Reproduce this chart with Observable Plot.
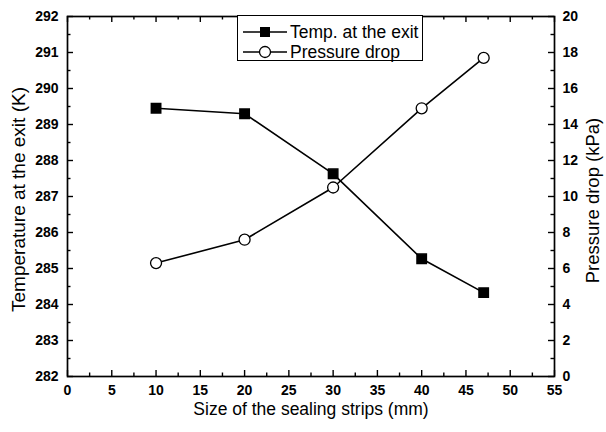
<!DOCTYPE html>
<html>
<head>
<meta charset="utf-8">
<script src="https://cdn.jsdelivr.net/npm/d3@7"></script>
<script src="https://cdn.jsdelivr.net/npm/@observablehq/plot@0.6"></script>
<style>
  html, body { margin: 0; padding: 0; background: #fff; }
  #wrap { position: relative; width: 606px; height: 432px; font-family: "Liberation Sans", Arial, sans-serif; }
  #wrap > svg { position: absolute; left: 0; top: 0; }
  #legend { position: absolute; left: 237px; top: 15px; width: 186px; height: 46px; border: 1px solid #000; background: #fff; box-sizing: border-box; font-size: 17.5px; color: #000; }
  .row { position: absolute; left: 4px; height: 20px; display: flex; align-items: center; }
  .row span { margin-left: 2px; white-space: nowrap; }
</style>
</head>
<body>
<div id="wrap"></div>
<script>
// ---- data ----
const sizes = [10, 20, 30, 40, 47];
const temperature = [289.45, 289.30, 287.63, 285.27, 284.33];
const pressure = [6.3, 7.6, 10.5, 14.9, 17.7];
const xTicks = [0, 5, 10, 15, 20, 25, 30, 35, 40, 45, 50, 55];
const xMinor = [2.5, 7.5, 12.5, 17.5, 22.5, 27.5, 32.5, 37.5, 42.5, 47.5, 52.5];
const tempTicks = [282, 283, 284, 285, 286, 287, 288, 289, 290, 291, 292];
const tempMinor = [282.5, 283.5, 284.5, 285.5, 286.5, 287.5, 288.5, 289.5, 290.5, 291.5];
const pressTicks = [0, 2, 4, 6, 8, 10, 12, 14, 16, 18, 20];
const pressMinor = [1, 3, 5, 7, 9, 11, 13, 15, 17, 19];
const seriesNames = ["Temp. at the exit", "Pressure drop"];
const titles = {x: "Size of the sealing strips (mm)", yLeft: "Temperature at the exit (K)", yRight: "Pressure drop (kPa)"};

const tempData = sizes.map((s, i) => ({x: s, y: temperature[i]}));
const pressData = sizes.map((s, i) => ({x: s, y: pressure[i]}));

const W = 606, H = 432;
const M = {top: 16, right: 52, bottom: 56, left: 67};
const FH = H - M.top - M.bottom;
const FW = W - M.left - M.right;
const FONT = "'Liberation Sans', Arial, sans-serif";
const tickFont = {fontSize: "14px", fontWeight: "bold"};

const p1 = Plot.plot({
  width: W, height: H,
  marginTop: M.top, marginRight: M.right, marginBottom: M.bottom, marginLeft: M.left,
  x: {domain: [0, 55]},
  y: {domain: [282, 292]},
  style: {fontFamily: FONT, background: "white", overflow: "visible"},
  marks: [
    Plot.axisX(xTicks, {tickSize: 0, tickPadding: 9, label: null, tickFormat: d => d, ...tickFont}),
    Plot.axisY(tempTicks, {tickSize: 0, tickPadding: 9, label: null, tickFormat: d => d, ...tickFont}),
    // inward ticks
    Plot.tickX(xTicks, {x: d => d, insetTop: FH - 6, stroke: "black", strokeWidth: 1.4}),
    Plot.tickX(xTicks, {x: d => d, insetBottom: FH - 6, stroke: "black", strokeWidth: 1.4}),
    Plot.tickX(xMinor, {x: d => d, insetTop: FH - 3.5, stroke: "black", strokeWidth: 1.4}),
    Plot.tickX(xMinor, {x: d => d, insetBottom: FH - 3.5, stroke: "black", strokeWidth: 1.4}),
    Plot.tickY(tempTicks, {y: d => d, insetRight: FW - 6, stroke: "black", strokeWidth: 1.4}),
    Plot.tickY(tempMinor, {y: d => d, insetRight: FW - 3.5, stroke: "black", strokeWidth: 1.4}),
    Plot.frame({stroke: "black", strokeWidth: 1.7}),
    Plot.line(tempData, {x: "x", y: "y", stroke: "black", strokeWidth: 1.6}),
    Plot.dot(tempData, {x: "x", y: "y", symbol: "square", r: 5.3, fill: "black", stroke: "black"}),
    Plot.text([titles.x], {text: d => d, frameAnchor: "bottom", dy: 38, fontSize: "17.5px", fontWeight: "normal"}),
    Plot.text([titles.yLeft], {text: d => d, frameAnchor: "left", textAnchor: "middle", dx: -49, dy: 3, rotate: -90, fontSize: "19px", fontWeight: "normal"})
  ]
});

const p2 = Plot.plot({
  width: W, height: H,
  marginTop: M.top, marginRight: M.right, marginBottom: M.bottom, marginLeft: M.left,
  x: {domain: [0, 55], axis: null},
  y: {domain: [0, 20]},
  style: {fontFamily: FONT, background: "transparent", overflow: "visible"},
  marks: [
    Plot.axisY(pressTicks, {anchor: "right", tickSize: 0, tickPadding: 8, label: null, tickFormat: d => d, ...tickFont}),
    Plot.tickY(pressTicks, {y: d => d, insetLeft: FW - 6, stroke: "black", strokeWidth: 1.4}),
    Plot.tickY(pressMinor, {y: d => d, insetLeft: FW - 3.5, stroke: "black", strokeWidth: 1.4}),
    Plot.line(pressData, {x: "x", y: "y", stroke: "black", strokeWidth: 1.6}),
    Plot.dot(pressData, {x: "x", y: "y", r: 5.5, fill: "white", stroke: "black", strokeWidth: 1.3}),
    Plot.text([titles.yRight], {text: d => d, frameAnchor: "right", textAnchor: "middle", dx: 39, dy: 4, rotate: -90, fontSize: "18.5px", fontWeight: "normal"})
  ]
});
p2.style.pointerEvents = "none";

const wrap = document.getElementById("wrap");
wrap.appendChild(p1);
wrap.appendChild(p2);

// legend
const legend = document.createElement("div");
legend.id = "legend";
const symSq = '<svg width="46" height="14"><line x1="1" y1="7" x2="45" y2="7" stroke="black" stroke-width="1.5"/><rect x="18" y="2" width="10" height="10" fill="black"/></svg>';
const symCi = '<svg width="46" height="14"><line x1="1" y1="7" x2="45" y2="7" stroke="black" stroke-width="1.5"/><circle cx="23" cy="7" r="5.5" fill="white" stroke="black" stroke-width="1.3"/></svg>';
legend.innerHTML =
  `<div class="row" style="top:6px">${symSq}<span>${seriesNames[0]}</span></div>` +
  `<div class="row" style="top:26px">${symCi}<span>${seriesNames[1]}</span></div>`;
wrap.appendChild(legend);
</script>
</body>
</html>
